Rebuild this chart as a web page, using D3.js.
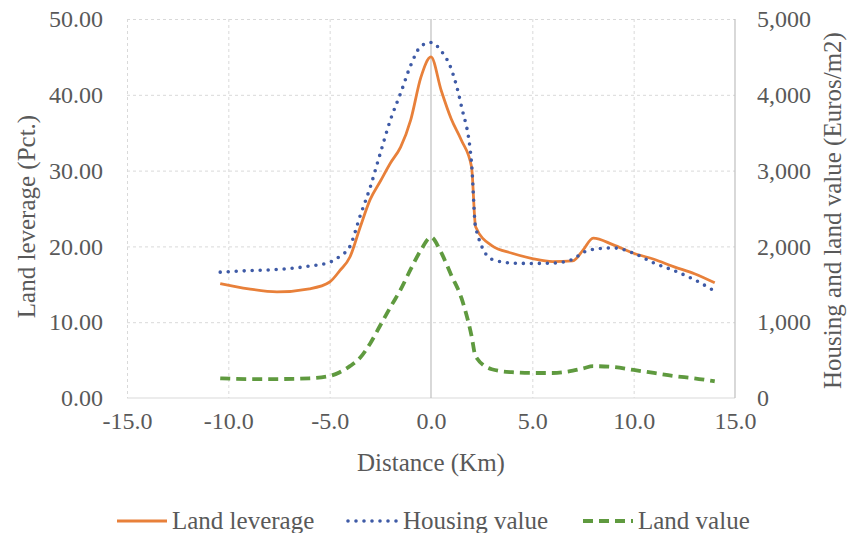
<!DOCTYPE html>
<html>
<head>
<meta charset="utf-8">
<script src="https://cdn.jsdelivr.net/npm/d3@7"></script>
<style>
  html, body { margin: 0; padding: 0; background: #fff; }
</style>
</head>
<body>
<div id="chart"></div>
<script>
// distance from centre (km), shared by all three series
const distances = [-10.4, -9, -7.6, -6, -5, -4.5, -4, -3.5, -3, -2.5, -2, -1.5, -1, -0.5, 0,
  0.5, 1, 1.5, 2, 2.2, 3, 4, 5, 6, 7, 7.5, 8, 9, 10, 11, 12, 13, 14];

// land leverage (Pct.) - left axis
const landLeverage = [15.1, 14.4, 14.0, 14.4, 15.3, 16.8, 18.6, 22.5, 26.2, 28.6, 31.0, 33.1, 36.7, 42.3, 45.0,
  40.6, 36.8, 34.0, 30.5, 22.6, 20.1, 19.1, 18.4, 18.0, 18.1, 19.5, 21.1, 20.2, 19.1, 18.3, 17.3, 16.4, 15.2];

// housing value (Euros/m2) - right axis
const housingValue = [1660, 1680, 1695, 1740, 1790, 1870, 2000, 2400, 2780, 3230, 3670, 4020, 4390, 4640, 4690,
  4580, 4340, 3850, 3100, 2250, 1830, 1780, 1775, 1780, 1830, 1920, 1960, 1980, 1910, 1780, 1680, 1560, 1410];

// land value (Euros/m2) - right axis
const landValue = [260, 250, 250, 260, 290, 340, 420, 530, 720, 960, 1200, 1430, 1700, 1950, 2120,
  1920, 1620, 1320, 820, 550, 380, 340, 330, 330, 360, 390, 420, 410, 370, 330, 290, 260, 220];

const xTicks = [-15, -10, -5, 0, 5, 10, 15];
const leftTicks = [0, 10, 20, 30, 40, 50];
const rightTicks = [0, 1000, 2000, 3000, 4000, 5000];
const seriesNames = ['Land leverage', 'Housing value', 'Land value'];

const FONT = '"Liberation Serif", "Times New Roman", serif';
const width = 848, height = 533;
const margin = { top: 19, right: 113, bottom: 135, left: 127 };
const innerW = width - margin.left - margin.right;
const innerH = height - margin.top - margin.bottom;

const svg = d3.select('#chart').append('svg')
  .attr('width', width)
  .attr('height', height)
  .attr('font-family', FONT);

const g = svg.append('g').attr('transform', `translate(${margin.left},${margin.top})`);

const x = d3.scaleLinear().domain([-15, 15]).range([0, innerW]);
const yL = d3.scaleLinear().domain([0, 50]).range([innerH, 0]);
const yR = d3.scaleLinear().domain([0, 5000]).range([innerH, 0]);

// gridlines
g.append('g')
  .call(d3.axisLeft(yL).tickValues(leftTicks.slice(1)).tickSize(-innerW).tickFormat(''))
  .call(a => a.select('.domain').remove())
  .call(a => a.selectAll('line').attr('stroke', '#d9d9d9').attr('stroke-dasharray', '3,3'));

g.append('g')
  .call(d3.axisBottom(x).tickValues([-15, -10, -5, 5, 10]).tickSize(innerH).tickFormat(''))
  .call(a => a.select('.domain').remove())
  .call(a => a.selectAll('line').attr('stroke', '#d9d9d9').attr('stroke-dasharray', '3,3'));

// solid axis lines
g.append('line').attr('x1', 0).attr('x2', innerW).attr('y1', innerH).attr('y2', innerH)
  .attr('stroke', '#d9d9d9').attr('stroke-width', 1.2);
g.append('line').attr('x1', x(0)).attr('x2', x(0)).attr('y1', 0).attr('y2', innerH)
  .attr('stroke', '#bfbfbf').attr('stroke-width', 1.2);
g.append('line').attr('x1', innerW).attr('x2', innerW).attr('y1', 0).attr('y2', innerH)
  .attr('stroke', '#bfbfbf').attr('stroke-width', 1.2);

// tick labels (hyphen minus like the original)
const fmtL = d3.format('.2f');
const fmtR = d3.format(',');
const fmtX = d => d3.format('.1f')(d).replace('\u2212', '-');

function styleTicks(a) {
  a.select('.domain').remove();
  a.attr('font-family', FONT);
  a.selectAll('text').attr('font-size', 24).attr('fill', '#595959');
}

g.append('g')
  .call(d3.axisLeft(yL).tickValues(leftTicks).tickSize(0).tickPadding(24).tickFormat(fmtL))
  .call(styleTicks);

g.append('g')
  .attr('transform', `translate(${innerW},0)`)
  .call(d3.axisRight(yR).tickValues(rightTicks).tickSize(0).tickPadding(22).tickFormat(fmtR))
  .call(styleTicks);

g.append('g')
  .attr('transform', `translate(0,${innerH})`)
  .call(d3.axisBottom(x).tickValues(xTicks).tickSize(0).tickPadding(14).tickFormat(fmtX))
  .call(styleTicks);

// axis titles
svg.append('text')
  .attr('transform', `translate(35,${margin.top + innerH / 2 + 8}) rotate(-90)`)
  .attr('text-anchor', 'middle')
  .attr('font-size', 25)
  .attr('fill', '#595959')
  .text('Land leverage (Pct.)');

svg.append('text')
  .attr('transform', `translate(841,${margin.top + innerH / 2 + 2}) rotate(-90)`)
  .attr('text-anchor', 'middle')
  .attr('font-size', 25)
  .attr('fill', '#595959')
  .text('Housing and land value (Euros/m2)');

svg.append('text')
  .attr('x', margin.left + x(0))
  .attr('y', 471)
  .attr('text-anchor', 'middle')
  .attr('font-size', 25)
  .attr('fill', '#595959')
  .text('Distance (Km)');

// series
const styles = [
  { color: '#e8803a', width: 2.8, dash: null, cap: 'butt' },
  { color: '#3e5aa6', width: 3.6, dash: '0,8', cap: 'round' },
  { color: '#5f9a3f', width: 3.8, dash: '10,6', cap: 'butt' }
];

const lineL = d3.line().x((d, i) => x(distances[i])).y(d => yL(d)).curve(d3.curveMonotoneX);
const lineR = d3.line().x((d, i) => x(distances[i])).y(d => yR(d)).curve(d3.curveMonotoneX);

[[landLeverage, lineL], [housingValue, lineR], [landValue, lineR]].forEach(([data, gen], i) => {
  const s = styles[i];
  g.append('path')
    .datum(data)
    .attr('fill', 'none')
    .attr('stroke', s.color)
    .attr('stroke-width', s.width)
    .attr('stroke-linecap', s.cap)
    .attr('stroke-dasharray', s.dash)
    .attr('d', gen);
});

// legend
const legendX = [117, 348, 583];
const legend = svg.append('g').attr('transform', 'translate(0,521)');
seriesNames.forEach((name, i) => {
  const s = styles[i];
  legend.append('line')
    .attr('x1', legendX[i]).attr('x2', legendX[i] + 50)
    .attr('y1', 0).attr('y2', 0)
    .attr('stroke', s.color)
    .attr('stroke-width', s.width)
    .attr('stroke-linecap', s.cap)
    .attr('stroke-dasharray', s.dash);
  legend.append('text')
    .attr('x', legendX[i] + 55)
    .attr('y', 8)
    .attr('font-size', 25)
    .attr('fill', '#595959')
    .text(name);
});
</script>
</body>
</html>
